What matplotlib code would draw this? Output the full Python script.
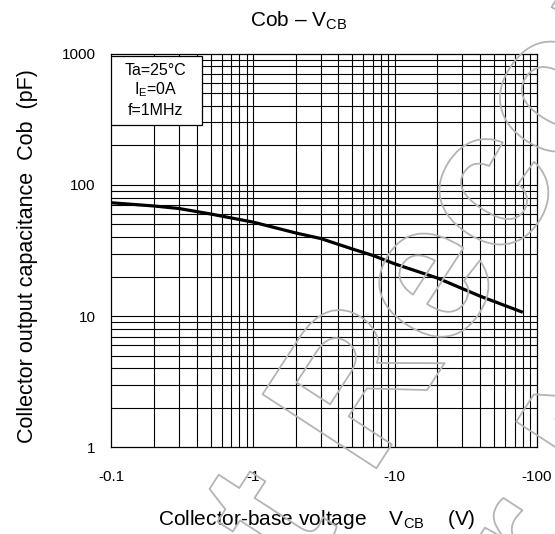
import numpy as np
import matplotlib
matplotlib.use('Agg')
import matplotlib.pyplot as plt
import matplotlib.patheffects as pef
from matplotlib.patches import Rectangle

plt.rcParams.update({
    'font.family': ['Liberation Sans', 'DejaVu Sans'],
    'mathtext.fontset': 'custom',
    'mathtext.rm': 'Liberation Sans',
    'mathtext.it': 'Liberation Sans',
    'mathtext.bf': 'Liberation Sans',
})

# Cob vs VCB, Ta=25C, IE=0A, f=1MHz
vcb = [-0.1, -0.2, -0.3, -0.5, -1, -2, -3, -5, -7, -10, -20, -40, -80]
cob = [73, 69, 66, 60, 52, 43, 39, 32.5, 29, 25, 19.5, 14.2, 10.7]

x_ticks = [0.1, 1, 10, 100]
x_labels = ['-0.1', '-1', '-10', '-100']
y_ticks = [1, 10, 100, 1000]
y_labels = ['1', '10', '100', '1000']
conditions = ['Ta=25°C', r'I$_\mathregular{E}$=0A', 'f=1MHz']

fig = plt.figure(figsize=(5.55, 5.34), dpi=100)
ax = fig.add_axes([0.2009, 0.162, 0.7658, 0.7378])

ax.set_xscale('log')
ax.set_yscale('log')
ax.set_xlim(0.1, 100)
ax.set_ylim(1, 1000)

# full log grid: lines at every 1..9 x decade
for dec in [0.1, 1, 10]:
    for k in range(1, 10):
        if dec * k > 0.1:
            ax.axvline(dec * k, color='black', lw=0.8, zorder=1)
for dec in [1, 10, 100]:
    for k in range(1, 10):
        if dec * k > 1:
            ax.axhline(dec * k, color='black', lw=0.8, zorder=1)

ax.plot(-np.array(vcb), cob, color='black', lw=2.3, zorder=3,
        solid_capstyle='butt')

ax.set_xticks(x_ticks)
ax.set_xticklabels(x_labels)
ax.set_yticks(y_ticks)
ax.set_yticklabels(y_labels)
ax.minorticks_off()
ax.tick_params(length=0, labelsize=11)
ax.tick_params(axis='y', pad=11.5)
ax.tick_params(axis='x', pad=16)
for s in ax.spines.values():
    s.set_linewidth(0.9)

# conditions box
ax.add_patch(Rectangle((0, 0.8185), 0.214, 0.1747, transform=ax.transAxes,
                       facecolor='white', edgecolor='black', lw=0.9, zorder=4))
for i, t in enumerate(conditions):
    ax.text(0.104, 0.958 - i * 0.0507, t, transform=ax.transAxes,
            ha='center', va='center', fontsize=11.5, zorder=5)

fig.text(0.4497, 0.95, r'Cob – V$_\mathregular{CB}$', ha='left', va='baseline',
         fontsize=15)
fig.text(0.285, 0.0169, r'Collector-base voltage    V$_\mathregular{CB}$    (V)',
         ha='left', va='baseline', fontsize=15)
fig.text(0.06, 0.1699, 'Collector output capacitance  Cob  (pF)',
         ha='left', va='baseline', rotation=90, rotation_mode='anchor',
         fontsize=15.5)

# outlined watermark, two lines
outline = [pef.withStroke(linewidth=1.3, foreground='#b4b4b4')]
for (fx, fy), line in zip([(1.171, 0.912), (1.515, 0.680)],
                          ['Not Recommended', 'for New Design']):
    fig.text(fx, fy, line, fontsize=142, fontweight='bold', rotation=57,
             rotation_mode='anchor', ha='center', va='baseline', color='none',
             path_effects=outline, zorder=10)

fig.savefig('out.png', dpi=100, facecolor='white')
